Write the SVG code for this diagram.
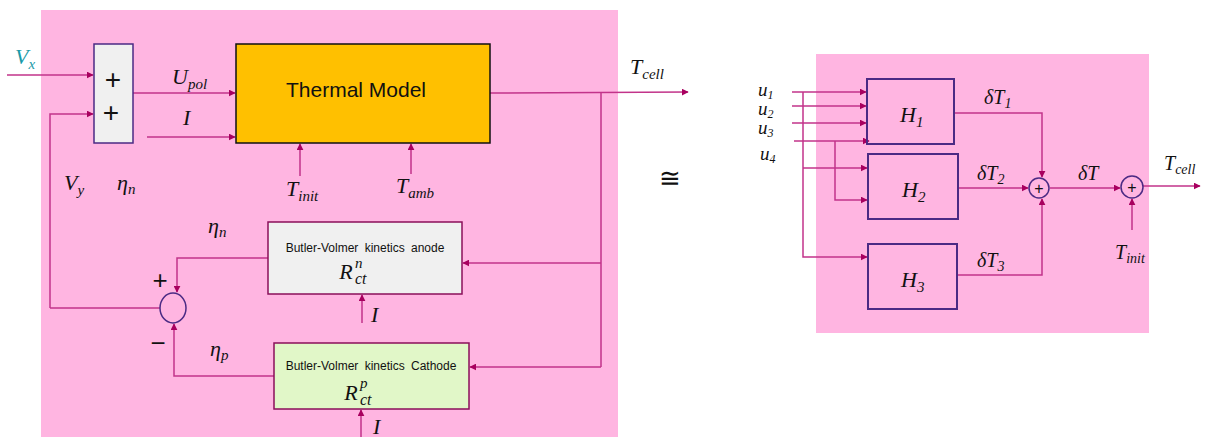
<svg xmlns="http://www.w3.org/2000/svg" width="1217" height="437" viewBox="0 0 1217 437">
<defs>
<marker id="ah" viewBox="0 0 10 10" refX="9" refY="5" markerWidth="7" markerHeight="7" markerUnits="userSpaceOnUse" orient="auto"><path d="M0,0 L10,5 L0,10 z" fill="#a8005f"/></marker>
<style>
.bg{fill:#ffb5e1}
.ln{fill:none;stroke:#c2338a;stroke-width:1.5}
.ar{fill:none;stroke:#c2338a;stroke-width:1.5;marker-end:url(#ah)}
.m{font-family:"Liberation Serif","DejaVu Serif",serif;font-style:italic;fill:#111}
.s{font-family:"Liberation Sans",Arial,sans-serif;fill:#111}
.pb{fill:none;stroke:#4b2a84;stroke-width:2}
</style>
</defs>
<rect class="bg" x="41" y="10" width="577" height="427"/>
<rect class="bg" x="816" y="54" width="333" height="279"/>

<g id="connectors">
<line class="ar" x1="7" y1="75" x2="93" y2="75"/>
<polyline class="ar" points="50,308 50,114 93,114"/>
<line class="ln" x1="50" y1="308" x2="160" y2="308"/>
<line class="ar" x1="133" y1="93" x2="235" y2="93"/>
<line class="ar" x1="147" y1="137" x2="235" y2="137"/>
<line class="ar" x1="300" y1="176" x2="300" y2="144"/>
<line class="ar" x1="411" y1="174" x2="411" y2="144"/>
<line class="ar" x1="490" y1="93" x2="688" y2="92"/>
<line class="ln" x1="601" y1="93" x2="601" y2="367"/>
<line class="ar" x1="601" y1="263" x2="463" y2="263"/>
<line class="ar" x1="601" y1="367" x2="470" y2="367"/>
<line class="ar" x1="362" y1="323" x2="362" y2="295"/>
<line class="ar" x1="361" y1="437" x2="361" y2="410"/>
<polyline class="ar" points="268,258 177,258 177,292"/>
<polyline class="ar" points="274,376 174,376 174,324"/>

<line class="ar" x1="792" y1="92" x2="866" y2="92"/>
<line class="ar" x1="792" y1="106" x2="866" y2="106"/>
<line class="ar" x1="792" y1="123" x2="866" y2="123"/>
<line class="ar" x1="794" y1="141" x2="869" y2="141"/>
<polyline class="ar" points="803,92 803,257 867,257"/>
<line class="ar" x1="803" y1="168" x2="867" y2="168"/>
<polyline class="ar" points="835,141 835,200 867,200"/>
<polyline class="ar" points="954,113 1042,113 1042,177"/>
<line class="ar" x1="958" y1="188" x2="1028" y2="188"/>
<polyline class="ar" points="957,275 1042,275 1042,199"/>
<line class="ar" x1="1050" y1="188" x2="1120" y2="188"/>
<line class="ar" x1="1132" y1="230" x2="1132" y2="199"/>
<line class="ar" x1="1143" y1="186" x2="1200" y2="186"/>
</g>

<g id="sum1">
<rect x="94" y="44" width="39" height="99" fill="#f0f0f0" stroke="#4b2a84" stroke-width="1.5"/>
<text class="s" x="113" y="89" font-size="28" text-anchor="middle">+</text>
<text class="s" x="111" y="122" font-size="28" text-anchor="middle">+</text>
</g>

<g id="thermal">
<rect x="236" y="44" width="254" height="99" fill="#ffc000" stroke="#111" stroke-width="1.5"/>
<text class="s" x="356" y="97" font-size="21" text-anchor="middle">Thermal Model</text>
</g>

<g id="anode">
<rect x="268" y="222" width="194" height="72" fill="#f0f0f0" stroke="#8a0f5a" stroke-width="1.5"/>
<text class="s" x="365" y="252" font-size="12" word-spacing="3" text-anchor="middle">Butler-Volmer kinetics anode</text>
<text class="m" x="346" y="279" font-size="22" text-anchor="middle">R</text>
<text class="m" x="355" y="268" font-size="15">n</text>
<text class="m" x="355" y="284" font-size="16">ct</text>
</g>

<g id="cathode">
<rect x="274" y="343" width="195" height="66" fill="#e1f7c8" stroke="#8a0f5a" stroke-width="1.5"/>
<text class="s" x="371" y="370" font-size="12" word-spacing="3" text-anchor="middle">Butler-Volmer kinetics Cathode</text>
<text class="m" x="351" y="400" font-size="22" text-anchor="middle">R</text>
<text class="m" x="360" y="388" font-size="15">p</text>
<text class="m" x="360" y="405" font-size="16">ct</text>
</g>

<g id="diff">
<ellipse cx="173" cy="308" rx="13" ry="15" fill="none" stroke="#4b2a84" stroke-width="1.5"/>
<text class="s" x="160" y="289" font-size="26" text-anchor="middle">+</text>
<text class="s" x="158" y="352" font-size="26" text-anchor="middle">−</text>
</g>

<g id="labels-left">
<text class="m" x="15" y="64" font-size="22" style="fill:#1a9aa8">V<tspan font-size="15" dy="5">x</tspan></text>
<text class="m" x="172" y="84" font-size="22">U<tspan font-size="15" dy="5">pol</tspan></text>
<text class="m" x="183" y="125" font-size="22">I</text>
<text class="m" x="64" y="190" font-size="22">V<tspan font-size="15" dy="5">y</tspan></text>
<text class="m" x="117" y="190" font-size="22">η<tspan font-size="15" dy="4">n</tspan></text>
<text class="m" x="208" y="233" font-size="22">η<tspan font-size="15" dy="4">n</tspan></text>
<text class="m" x="210" y="356" font-size="22">η<tspan font-size="15" dy="4">p</tspan></text>
<text class="m" x="286" y="196" font-size="22">T<tspan font-size="15" dy="5">init</tspan></text>
<text class="m" x="396" y="193" font-size="22">T<tspan font-size="15" dy="5">amb</tspan></text>
<text class="m" x="630" y="74" font-size="22">T<tspan font-size="15" dy="5">cell</tspan></text>
<text class="m" x="371" y="322" font-size="22">I</text>
<text class="m" x="373" y="434" font-size="22">I</text>
<text class="s" x="670" y="187" font-size="26" text-anchor="middle">≅</text>
</g>

<g id="H1"><rect class="pb" x="867" y="79" width="87" height="65"/><text class="m" x="900" y="122" font-size="22">H<tspan font-size="15" dy="5">1</tspan></text></g>
<g id="H2"><rect class="pb" x="868" y="154" width="90" height="65"/><text class="m" x="902" y="197" font-size="22">H<tspan font-size="15" dy="5">2</tspan></text></g>
<g id="H3"><rect class="pb" x="868" y="244" width="89" height="65"/><text class="m" x="901" y="287" font-size="22">H<tspan font-size="15" dy="5">3</tspan></text></g>

<g id="sum2"><circle cx="1039" cy="188" r="10" fill="none" stroke="#4b2a84" stroke-width="1.5"/><text class="s" x="1039" y="194" font-size="16" text-anchor="middle">+</text></g>
<g id="sum3"><circle cx="1132" cy="187" r="11" fill="none" stroke="#4b2a84" stroke-width="1.5"/><text class="s" x="1132" y="193" font-size="16" text-anchor="middle">+</text></g>

<g id="labels-right">
<text class="m" x="758" y="96" font-size="19">u<tspan font-size="12" dy="3">1</tspan></text>
<text class="m" x="758" y="115" font-size="19">u<tspan font-size="12" dy="3">2</tspan></text>
<text class="m" x="758" y="134" font-size="19">u<tspan font-size="12" dy="3">3</tspan></text>
<text class="m" x="760" y="160" font-size="19">u<tspan font-size="12" dy="3">4</tspan></text>
<text class="m" x="984" y="104" font-size="20">δT<tspan font-size="14" dy="4">1</tspan></text>
<text class="m" x="977" y="180" font-size="20">δT<tspan font-size="14" dy="4">2</tspan></text>
<text class="m" x="977" y="267" font-size="20">δT<tspan font-size="14" dy="4">3</tspan></text>
<text class="m" x="1078" y="180" font-size="20">δT</text>
<text class="m" x="1115" y="259" font-size="20">T<tspan font-size="14" dy="4">init</tspan></text>
<text class="m" x="1164" y="170" font-size="20">T<tspan font-size="14" dy="4">cell</tspan></text>
</g>
</svg>
